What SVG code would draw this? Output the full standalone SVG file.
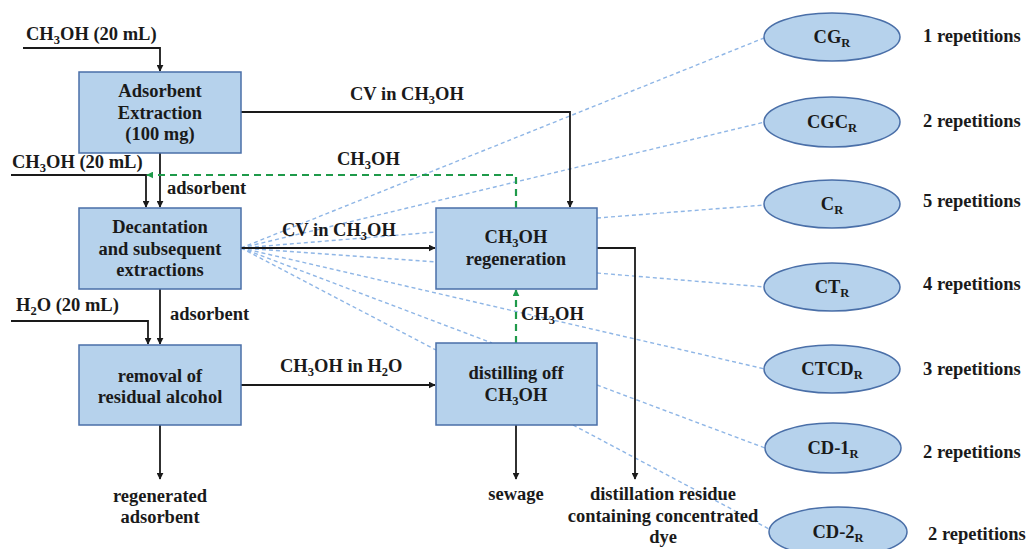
<svg xmlns="http://www.w3.org/2000/svg" width="1030" height="549" viewBox="0 0 1030 549">
<style>
text{font-family:"Liberation Serif","Times New Roman",serif;font-weight:bold;font-size:18.5px;fill:#1a1a1a}
.c{text-anchor:middle}
.sub{font-size:12.5px}
.box{fill:#b6d2ec;stroke:#4a6fa8;stroke-width:1.5}
.blk{fill:none;stroke:#1a1a1a;stroke-width:1.8}
.grn{fill:none;stroke:#1f9a4a;stroke-width:2.2;stroke-dasharray:7,5}
.blu{fill:none;stroke:#8fb6e6;stroke-width:1.4;stroke-dasharray:4,3}
</style>
<defs>
<marker id="ab" viewBox="0 0 10 10" refX="9" refY="5" markerWidth="7" markerHeight="7" markerUnits="userSpaceOnUse" orient="auto"><path d="M0,0 L10,5 L0,10 z" fill="#1a1a1a"/></marker>
<marker id="ag" viewBox="0 0 10 10" refX="9" refY="5" markerWidth="7" markerHeight="7" markerUnits="userSpaceOnUse" orient="auto"><path d="M0,0 L10,5 L0,10 z" fill="#1f9a4a"/></marker>
</defs>
<rect width="1030" height="549" fill="#fff"/>
<g id="connectors">
<line class="blu" x1="241" y1="248" x2="764" y2="38"/>
<line class="blu" x1="241" y1="248" x2="765" y2="122"/>
<line class="blu" x1="241" y1="248" x2="436" y2="232"/>
<line class="blu" x1="241" y1="248" x2="436" y2="262"/>
<line class="blu" x1="241" y1="248" x2="765" y2="369"/>
<line class="blu" x1="241" y1="248" x2="492" y2="343"/>
<line class="blu" x1="241" y1="248" x2="436" y2="350"/>
<line class="blu" x1="597" y1="218" x2="765" y2="205"/>
<line class="blu" x1="597" y1="273" x2="765" y2="287"/>
<line class="blu" x1="597" y1="385" x2="765" y2="448"/>
<line class="blu" x1="573" y1="425" x2="771" y2="530"/>
<polyline class="blk" points="23,48 160,48 160,71" marker-end="url(#ab)"/>
<line class="blk" x1="160" y1="153" x2="160" y2="207" marker-end="url(#ab)"/>
<polyline class="blk" points="11,175 146,175 146,207" marker-end="url(#ab)"/>
<polyline class="blk" points="241,112 570,112 570,207" marker-end="url(#ab)"/>
<line class="blk" x1="241" y1="248" x2="435" y2="248" marker-end="url(#ab)"/>
<line class="blk" x1="160" y1="289" x2="160" y2="344" marker-end="url(#ab)"/>
<polyline class="blk" points="11,321 148,321 148,344" marker-end="url(#ab)"/>
<line class="blk" x1="241" y1="385" x2="435" y2="385" marker-end="url(#ab)"/>
<line class="blk" x1="160" y1="425" x2="160" y2="479" marker-end="url(#ab)"/>
<line class="blk" x1="516" y1="425" x2="516" y2="479" marker-end="url(#ab)"/>
<polyline class="blk" points="597,248 635,248 635,479" marker-end="url(#ab)"/>
<polyline class="grn" points="516,208 516,175 147,175" marker-end="url(#ag)"/>
<line class="grn" x1="516" y1="343" x2="516" y2="290" marker-end="url(#ag)"/>
</g>
<g id="labels">
<text x="26" y="40">CH<tspan class="sub" dy="4">3</tspan><tspan dy="-4">OH (20 mL)</tspan></text>
<text x="12" y="168">CH<tspan class="sub" dy="4">3</tspan><tspan dy="-4">OH (20 mL)</tspan></text>
<text x="167" y="194">adsorbent</text>
<text x="170" y="320">adsorbent</text>
<text x="16" y="311">H<tspan class="sub" dy="4">2</tspan><tspan dy="-4">O (20 mL)</tspan></text>
<text x="350" y="100">CV in CH<tspan class="sub" dy="4">3</tspan><tspan dy="-4">OH</tspan></text>
<text x="337" y="165">CH<tspan class="sub" dy="4">3</tspan><tspan dy="-4">OH</tspan></text>
<text x="282" y="236">CV in CH<tspan class="sub" dy="4">3</tspan><tspan dy="-4">OH</tspan></text>
<text x="280" y="372">CH<tspan class="sub" dy="4">3</tspan><tspan dy="-4">OH in H</tspan><tspan class="sub" dy="4">2</tspan><tspan dy="-4">O</tspan></text>
<text x="521" y="320">CH<tspan class="sub" dy="4">3</tspan><tspan dy="-4">OH</tspan></text>
<text class="c" x="160" y="502">regenerated</text>
<text class="c" x="160" y="523">adsorbent</text>
<text class="c" x="516" y="500">sewage</text>
<text class="c" x="663" y="500">distillation residue</text>
<text class="c" x="663" y="522">containing concentrated</text>
<text class="c" x="663" y="543">dye</text>
</g>
<g id="n-extraction"><rect class="box" x="79" y="72" width="162" height="81"/>
<text class="c" x="160" y="97">Adsorbent</text><text class="c" x="160" y="119">Extraction</text><text class="c" x="160" y="140">(100 mg)</text></g>
<g id="n-decantation"><rect class="box" x="79" y="208" width="162" height="81"/>
<text class="c" x="160" y="233">Decantation</text><text class="c" x="160" y="255">and subsequent</text><text class="c" x="160" y="276">extractions</text></g>
<g id="n-removal"><rect class="box" x="79" y="345" width="162" height="80"/>
<text class="c" x="160" y="382">removal of</text><text class="c" x="160" y="403">residual alcohol</text></g>
<g id="n-regeneration"><rect class="box" x="436" y="208" width="161" height="81"/>
<text class="c" x="516" y="243">CH<tspan class="sub" dy="4">3</tspan><tspan dy="-4">OH</tspan></text><text class="c" x="516" y="265">regeneration</text></g>
<g id="n-distilling"><rect class="box" x="436" y="343" width="161" height="82"/>
<text class="c" x="516" y="379">distilling off</text><text class="c" x="516" y="401">CH<tspan class="sub" dy="4">3</tspan><tspan dy="-4">OH</tspan></text></g>
<g id="n-cg"><ellipse class="box" cx="832" cy="37" rx="68" ry="24"/><text class="c" x="832" y="43">CG<tspan class="sub" dy="4">R</tspan></text><text x="923" y="42">1 repetitions</text></g>
<g id="n-cgc"><ellipse class="box" cx="832" cy="122" rx="68" ry="25"/><text class="c" x="832" y="128">CGC<tspan class="sub" dy="4">R</tspan></text><text x="923" y="127">2 repetitions</text></g>
<g id="n-c"><ellipse class="box" cx="832" cy="204" rx="68" ry="24"/><text class="c" x="832" y="210">C<tspan class="sub" dy="4">R</tspan></text><text x="923" y="207">5 repetitions</text></g>
<g id="n-ct"><ellipse class="box" cx="832" cy="287" rx="68" ry="24"/><text class="c" x="832" y="293">CT<tspan class="sub" dy="4">R</tspan></text><text x="923" y="290">4 repetitions</text></g>
<g id="n-ctcd"><ellipse class="box" cx="832" cy="369" rx="68" ry="24"/><text class="c" x="832" y="375">CTCD<tspan class="sub" dy="4">R</tspan></text><text x="923" y="375">3 repetitions</text></g>
<g id="n-cd1"><ellipse class="box" cx="833" cy="448" rx="68" ry="25"/><text class="c" x="833" y="454">CD-1<tspan class="sub" dy="4">R</tspan></text><text x="923" y="458">2 repetitions</text></g>
<g id="n-cd2"><ellipse class="box" cx="838" cy="532" rx="69" ry="25"/><text class="c" x="838" y="538">CD-2<tspan class="sub" dy="4">R</tspan></text><text x="928" y="540">2 repetitions</text></g>
</svg>
